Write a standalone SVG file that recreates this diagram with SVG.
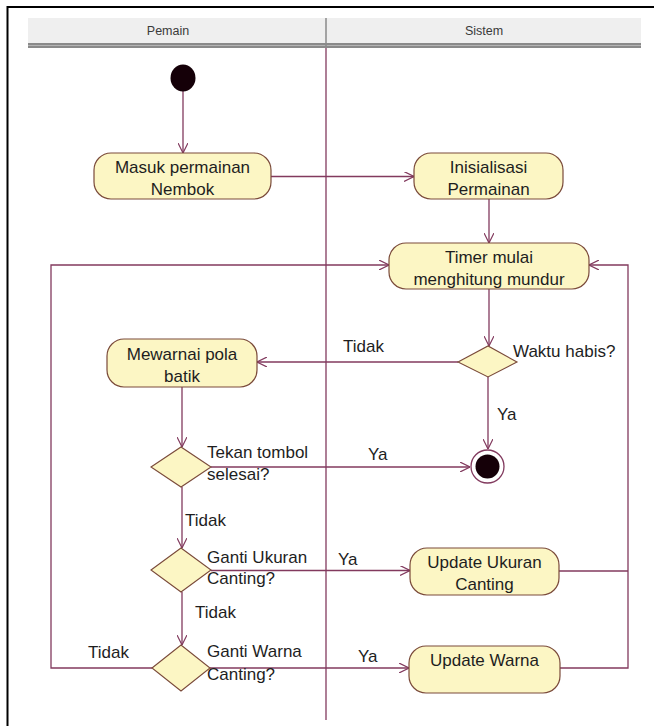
<svg xmlns="http://www.w3.org/2000/svg" width="654" height="726" viewBox="0 0 654 726">
  <style>
    .frame { stroke: #000; stroke-width: 2; fill: none; }
    .flow { stroke: #823a5e; stroke-width: 1.3; fill: none; }
    .act { fill: #fcf6c4; stroke: #7a4a3a; stroke-width: 1.2; }
    .dec { fill: #fcf6c4; stroke: #7a4a3a; stroke-width: 1.1; }
    .lbl { font-family: "Liberation Sans", Arial, sans-serif; font-size: 17px; fill: #1e1e1e; }
    .mid { text-anchor: middle; }
    .lane { font-family: "Liberation Sans", Arial, sans-serif; font-size: 12.5px; fill: #3a3a3a; text-anchor: middle; }
  </style>
  <defs>
    <marker id="arrow" viewBox="0 0 10 10" refX="10" refY="5" markerWidth="10" markerHeight="10" markerUnits="userSpaceOnUse" orient="auto">
      <path d="M0,0 L10,5 L0,10" fill="none" stroke="#823a5e" stroke-width="1.2"/>
    </marker>
  </defs>

  <rect width="654" height="726" fill="#fff"/>
  <!-- window frame -->
  <path class="frame" d="M7.5,726 V7 H654"/>

  <!-- swimlane header -->
  <g id="lanes">
    <rect x="28" y="18" width="613" height="25" fill="#efefef"/>
    <rect x="28" y="43" width="613" height="2" fill="#8a8a8a"/>
    <rect x="28" y="45" width="613" height="1" fill="#b4b4b4"/>
    <rect x="28" y="46" width="613" height="2" fill="#8a8a8a"/>
    <line x1="326" y1="18" x2="326" y2="48" stroke="#8a8a8a" stroke-width="1.5"/>
    <line x1="326" y1="48" x2="326" y2="720" stroke="#823a5e" stroke-width="1.3"/>
    <text class="lane" x="168" y="34.5">Pemain</text>
    <text class="lane" x="484" y="34.5">Sistem</text>
  </g>

  <!-- control flows -->
  <g id="connectors">
    <path class="flow" d="M183,91 V153" marker-end="url(#arrow)"/>
    <path class="flow" d="M271,176.5 H414" marker-end="url(#arrow)"/>
    <path class="flow" d="M489,199 V243" marker-end="url(#arrow)"/>
    <path class="flow" d="M489,289 V346" marker-end="url(#arrow)"/>
    <path class="flow" d="M458,362 H257" marker-end="url(#arrow)"/>
    <path class="flow" d="M488,377 V449" marker-end="url(#arrow)"/>
    <path class="flow" d="M182,387 V447" marker-end="url(#arrow)"/>
    <path class="flow" d="M211,467 H470" marker-end="url(#arrow)"/>
    <path class="flow" d="M182,487 V548" marker-end="url(#arrow)"/>
    <path class="flow" d="M211,570.5 H410" marker-end="url(#arrow)"/>
    <path class="flow" d="M182,592 V645" marker-end="url(#arrow)"/>
    <path class="flow" d="M210,668 H409" marker-end="url(#arrow)"/>
    <path class="flow" d="M152,668 H51 V265 H389" marker-end="url(#arrow)"/>
    <path class="flow" d="M559,571 H628"/>
    <path class="flow" d="M560,668 H628 V265 H589" marker-end="url(#arrow)"/>

    <text class="lbl" x="343" y="352">Tidak</text>
    <text class="lbl" x="497" y="420">Ya</text>
    <text class="lbl" x="368" y="460">Ya</text>
    <text class="lbl" x="185" y="526">Tidak</text>
    <text class="lbl" x="338" y="565">Ya</text>
    <text class="lbl" x="195" y="618">Tidak</text>
    <text class="lbl" x="88" y="658">Tidak</text>
    <text class="lbl" x="358" y="662">Ya</text>
  </g>

  <g id="start">
    <ellipse cx="183" cy="78" rx="12.5" ry="13.5" fill="#150008"/>
  </g>

  <g id="masuk-permainan">
    <rect class="act" x="94" y="153" width="177" height="46" rx="17" ry="17"/>
    <text class="lbl mid" x="182.5" y="172.5">Masuk permainan</text>
    <text class="lbl mid" x="182.5" y="195">Nembok</text>
  </g>

  <g id="inisialisasi">
    <rect class="act" x="414" y="153" width="149" height="46" rx="17" ry="17"/>
    <text class="lbl mid" x="488.5" y="172.5">Inisialisasi</text>
    <text class="lbl mid" x="488.5" y="195">Permainan</text>
  </g>

  <g id="timer">
    <rect class="act" x="389" y="243" width="200" height="46" rx="17" ry="17"/>
    <text class="lbl mid" x="489" y="262.5">Timer mulai</text>
    <text class="lbl mid" x="489" y="285">menghitung mundur</text>
  </g>

  <g id="waktu-habis">
    <polygon class="dec" points="458,362 488,346 517,362 488,377"/>
    <text class="lbl" x="513" y="357">Waktu habis?</text>
  </g>

  <g id="mewarnai">
    <rect class="act" x="107" y="339" width="150" height="48" rx="17" ry="17"/>
    <text class="lbl mid" x="182" y="359.5">Mewarnai pola</text>
    <text class="lbl mid" x="182" y="382">batik</text>
  </g>

  <g id="final">
    <circle cx="487.5" cy="466.5" r="16.5" fill="#fff" stroke="#823a5e" stroke-width="1.3"/>
    <circle cx="487.5" cy="466.5" r="12" fill="#150008"/>
  </g>

  <g id="tekan-selesai">
    <polygon class="dec" points="151,467 181,447 211,467 181,487"/>
    <text class="lbl" x="207" y="458">Tekan tombol</text>
    <text class="lbl" x="207" y="480">selesai?</text>
  </g>

  <g id="ganti-ukuran">
    <polygon class="dec" points="151,570 181,548 211,570 181,592"/>
    <text class="lbl" x="207" y="562.5">Ganti Ukuran</text>
    <text class="lbl" x="207" y="584">Canting?</text>
  </g>

  <g id="ganti-warna">
    <polygon class="dec" points="152,668 181,645 210,668 181,691"/>
    <text class="lbl" x="207" y="657">Ganti Warna</text>
    <text class="lbl" x="207" y="680">Canting?</text>
  </g>

  <g id="update-ukuran">
    <rect class="act" x="410" y="548" width="149" height="47" rx="17" ry="17"/>
    <text class="lbl mid" x="484.5" y="567.5">Update Ukuran</text>
    <text class="lbl mid" x="484.5" y="589.5">Canting</text>
  </g>

  <g id="update-warna">
    <rect class="act" x="409" y="646" width="151" height="47" rx="17" ry="17"/>
    <text class="lbl mid" x="484.5" y="665.5">Update Warna</text>
  </g>
</svg>
